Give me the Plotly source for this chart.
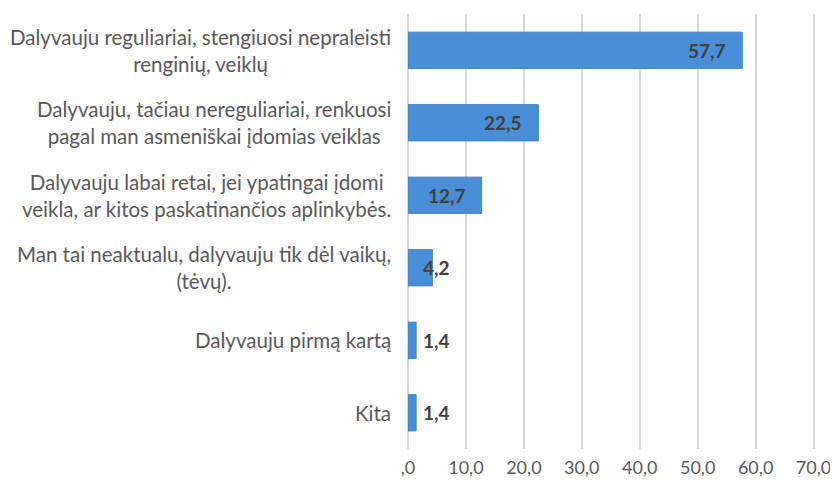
import plotly.graph_objects as go

categories = [
    "Dalyvauju reguliariai, stengiuosi nepraleisti<br>renginių, veiklų",
    "Dalyvauju, tačiau nereguliariai, renkuosi<br>pagal man asmeniškai įdomias veiklas",
    "Dalyvauju labai retai, jei ypatingai įdomi<br>veikla, ar kitos paskatinančios aplinkybės.",
    "Man tai neaktualu, dalyvauju tik dėl vaikų,<br>(tėvų).",
    "Dalyvauju pirmą kartą",
    "Kita",
]
values = [57.7, 22.5, 12.7, 4.2, 1.4, 1.4]
value_labels = ["57,7", "22,5", "12,7", "4,2", "1,4", "1,4"]
tick_vals = [0, 10, 20, 30, 40, 50, 60, 70]
tick_text = [",0", "10,0", "20,0", "30,0", "40,0", "50,0", "60,0", "70,0"]

fig = go.Figure()
fig.add_trace(go.Bar(
    x=values,
    y=categories,
    orientation="h",
    width=0.5,
    marker=dict(color="#4a8ed8", line=dict(color="#3f80c8", width=1)),
    hoverinfo="skip",
))

# value labels
for cat, v, lab in zip(categories, values, value_labels):
    if v > 10:
        anchor, shift = "right", -14
    elif v > 3:
        anchor, shift = "center", 4
    else:
        anchor, shift = "left", 5
    fig.add_annotation(
        x=v, xref="x", y=cat, yref="y",
        text="<b>" + lab + "</b>", showarrow=False,
        xanchor=anchor, yanchor="middle", xshift=shift,
        font=dict(family="Lato", size=19, color="#404040"),
    )

# category labels (centered multi-line, right-aligned block)
for cat in categories:
    fig.add_annotation(
        x=0, xref="paper", y=cat, yref="y",
        text=cat, showarrow=False,
        xanchor="right", yanchor="middle", align="center",
        xshift=-15,
        font=dict(family="Lato", size=20.5, color="#595959"),
    )

fig.update_layout(
    width=830, height=471,
    margin=dict(l=400, r=23, t=6, b=30),
    paper_bgcolor="white",
    plot_bgcolor="white",
    showlegend=False,
)
fig.update_xaxes(
    range=[0, 70.25],
    tickvals=tick_vals,
    ticktext=tick_text,
    showgrid=True,
    gridcolor="#d9d9d9",
    gridwidth=1.5,
    zeroline=True,
    zerolinecolor="#d9d9d9",
    zerolinewidth=1.5,
    showline=False,
    tickfont=dict(family="Lato", size=18, color="#595959"),
    ticks="",
    ticklabelstandoff=6,
    ticklabeloverflow="allow",
    automargin=False,
)
fig.update_yaxes(
    categoryorder="array",
    categoryarray=categories[::-1],
    showticklabels=False,
    showgrid=False,
    zeroline=False,
    showline=False,
    ticks="",
    automargin=False,
)

fig.write_html("out.html")
